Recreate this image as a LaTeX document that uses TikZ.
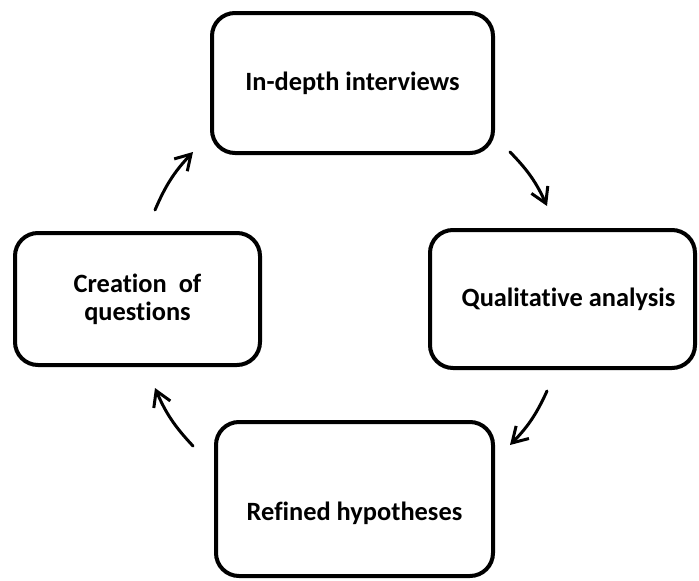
\documentclass[tikz,border=0pt]{standalone}
\usepackage{fontspec}
\setmainfont[Ligatures=NoCommon]{Carlito}
\usetikzlibrary{arrows.meta}
\begin{document}
\begin{tikzpicture}[x=1pt,y=-1pt,
  stage/.style={draw=black, line width=4pt, rounded corners=23pt, fill=white,
    font=\bfseries\fontsize{26.4}{28}\selectfont, align=center, inner sep=0pt},
  flow/.style={line width=3pt, line cap=round,
    -{Straight Barb[length=15pt,width=18pt,line width=3pt]}}]
  \useasboundingbox (0,0) rectangle (699,581);
  % the four stages of the cycle
  \node[stage, minimum width=281pt, minimum height=140pt] (interviews) at (352.5,83) {In-depth interviews};
  \node[stage, minimum width=265pt, minimum height=138pt] (analysis) at (562.5,299) {\hspace*{12pt}Qualitative analysis};
  \node[stage, minimum width=277pt, minimum height=154pt, text height=48pt, text depth=6pt] (hypotheses) at (354.5,499) {Refined hypotheses};
  \node[stage, minimum width=245pt, minimum height=132pt] (creation) at (137.5,299) {Creation~ of\\questions};
  % arrow end points around the cycle
  \coordinate (a1s) at (155,210); \coordinate (a1e) at (193,152);
  \coordinate (a2s) at (510,152); \coordinate (a2e) at (547,206);
  \coordinate (a3s) at (547,391); \coordinate (a3e) at (510,445);
  \coordinate (a4s) at (193,446); \coordinate (a4e) at (155,388);
  \draw[flow] (a1s) to[bend left=10] (a1e);
  \draw[flow] (a2s) to[bend left=10] (a2e);
  \draw[flow] (a3s) to[bend left=10] (a3e);
  \draw[flow] (a4s) to[bend left=10] (a4e);
\end{tikzpicture}
\end{document}
